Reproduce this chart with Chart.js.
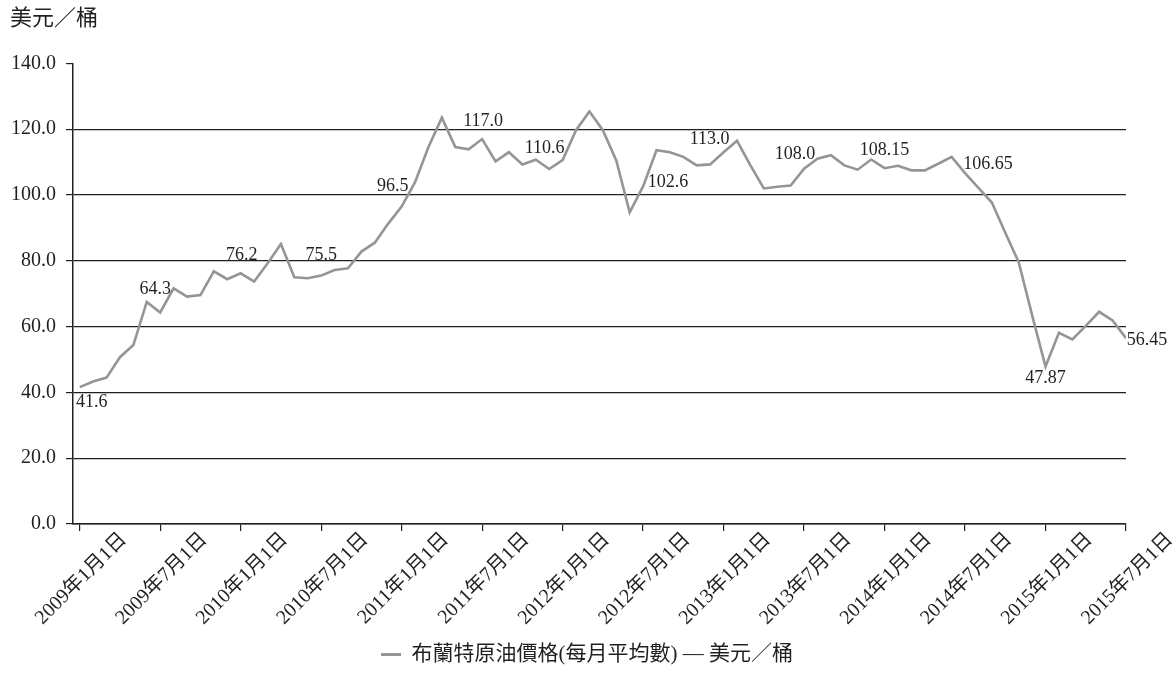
<!DOCTYPE html>
<html>
<head>
<meta charset="utf-8">
<title>布蘭特原油價格</title>
<script src="https://cdn.jsdelivr.net/npm/chart.js@4.4.1/dist/chart.umd.min.js"></script>
<style>
	html, body { margin: 0; padding: 0; background: #fff; }
</style>
</head>
<body>
<canvas id="oil-chart" width="1174" height="687"></canvas>
<script>
// 布蘭特原油每月平均價格（美元／桶），2009年1月 - 2015年7月
const prices = [
	41.6, 43.3, 44.5, 50.7, 54.4, 67.5, 64.3, 71.6, 69.1, 69.6, 76.8, 74.4,
	76.2, 73.7, 79.2, 85.1, 75.0, 74.7, 75.5, 77.2, 77.7, 82.8, 85.5, 91.3,
	96.5, 103.9, 114.6, 123.5, 114.6, 113.9, 117.0, 110.2, 113.0, 109.3, 110.7, 107.9,
	110.6, 119.7, 125.4, 119.7, 110.5, 94.7, 102.6, 113.6, 113.0, 111.6, 109.0, 109.3,
	113.0, 116.5, 109.0, 102.0, 102.5, 102.9, 108.0, 111.0, 112.1, 109.0, 107.7, 110.8,
	108.15, 108.9, 107.5, 107.5, 109.5, 111.6, 106.65, 102.2, 97.7, 88.5, 79.6, 63.5,
	47.87, 58.1, 56.1, 60.2, 64.5, 61.9, 56.45,
]

// 每半年一個刻度
const tickLabels = [
	'2009年1月1日', '2009年7月1日', '2010年1月1日', '2010年7月1日',
	'2011年1月1日', '2011年7月1日', '2012年1月1日', '2012年7月1日',
	'2013年1月1日', '2013年7月1日', '2014年1月1日', '2014年7月1日',
	'2015年1月1日', '2015年7月1日',
]

// 標出數值的月份（每年1月及7月）
const labelIndexes = [0, 6, 12, 18, 24, 30, 36, 42, 48, 54, 60, 66, 72, 78]

// 數值標籤相對於點的位移 [dx, dy]
const labelShifts = [
	[12, 15], [-5, -23], [1, -18], [0, -20], [-9, -20], [1, -18], [-18, -12],
	[25, -4], [-14, -13], [-9, -14], [0, -18], [23, -9], [0, 12], [21, 2],
]

const ink = '#231f20'
const lineGrey = '#939598'
const serif = "'Liberation Serif', 'Noto Sans CJK TC', serif"

const formatValue = v =>
	Math.abs(v * 10 - Math.round(v * 10)) < 1e-6 ? v.toFixed(1) : v.toFixed(2)

const valueLabels = {
	id: 'valueLabels',
	afterDatasetsDraw(chart) {
		const ctx = chart.ctx
		const points = chart.getDatasetMeta(0).data
		ctx.save()
		ctx.font = `18px ${serif}`
		ctx.fillStyle = ink
		ctx.textAlign = 'center'
		ctx.textBaseline = 'middle'
		labelIndexes.forEach((idx, k) => {
			const p = points[idx]
			const [dx, dy] = labelShifts[k]
			ctx.fillText(formatValue(prices[idx]), p.x + dx, p.y + dy)
		})
		ctx.restore()
	},
}

const config = {
	type: 'line',
	data: {
		datasets: [
			{
				label: '布蘭特原油價格(每月平均數) — 美元／桶',
				data: prices.map((y, i) => ({ x: i, y })),
				borderColor: lineGrey,
				backgroundColor: lineGrey,
				borderWidth: 2.6,
				pointRadius: 0,
				tension: 0,
			},
		],
	},
	options: {
		responsive: false,
		animation: false,
		devicePixelRatio: 1,
		layout: { padding: { left: 10, right: 10, top: 0, bottom: 12 } },
		scales: {
			x: {
				type: 'linear',
				min: -0.5,
				max: 78,
				afterBuildTicks: scale => {
					scale.ticks = tickLabels.map((t, k) => ({ value: k * 6 }))
				},
				afterFit: scale => {
					scale.height = 110
					scale.paddingLeft = 0
					scale.paddingRight = 0
				},
				ticks: {
					autoSkip: false,
					minRotation: 45,
					maxRotation: 45,
					labelOffset: 44,
					padding: -3,
					color: ink,
					font: { family: serif, size: 20 },
					callback: v => tickLabels[v / 6],
				},
				grid: {
					drawOnChartArea: false,
					tickLength: 7,
					color: ink,
					lineWidth: 1.2,
				},
				border: { color: ink, width: 1.5 },
			},
			y: {
				min: 0,
				max: 140,
				afterFit: scale => {
					scale.width = 63
				},
				ticks: {
					stepSize: 20,
					padding: 10,
					color: ink,
					font: { family: serif, size: 20 },
					callback: v => v.toFixed(1),
				},
				grid: {
					color: c => (c.tick && c.tick.value === 140 ? 'rgba(0,0,0,0)' : ink),
					tickColor: ink,
					tickLength: 7,
					lineWidth: 1.2,
				},
				border: { color: ink, width: 1.5 },
			},
			// 右側留白，令圖例置中
			y2: {
				position: 'right',
				afterFit: scale => {
					scale.width = 38
				},
				ticks: { display: false },
				grid: { display: false },
				border: { display: false },
			},
		},
		plugins: {
			title: {
				display: true,
				text: '美元／桶',
				align: 'start',
				color: ink,
				font: { family: serif, size: 22, weight: 'normal' },
				padding: { top: 6, bottom: 31 },
			},
			legend: {
				position: 'bottom',
				labels: {
					boxWidth: 20,
					boxHeight: 3,
					padding: 10,
					color: ink,
					font: { family: serif, size: 21 },
					// 圖例只畫一條細灰線，不要外框
					generateLabels: chart =>
						Chart.defaults.plugins.legend.labels
							.generateLabels(chart)
							.map(item => ({ ...item, lineWidth: 0 })),
				},
			},
			tooltip: { enabled: false },
		},
	},
	plugins: [valueLabels],
}

const canvaRef = document.querySelector('#oil-chart')

const oilChart = new Chart(canvaRef, config)
</script>
</body>
</html>
